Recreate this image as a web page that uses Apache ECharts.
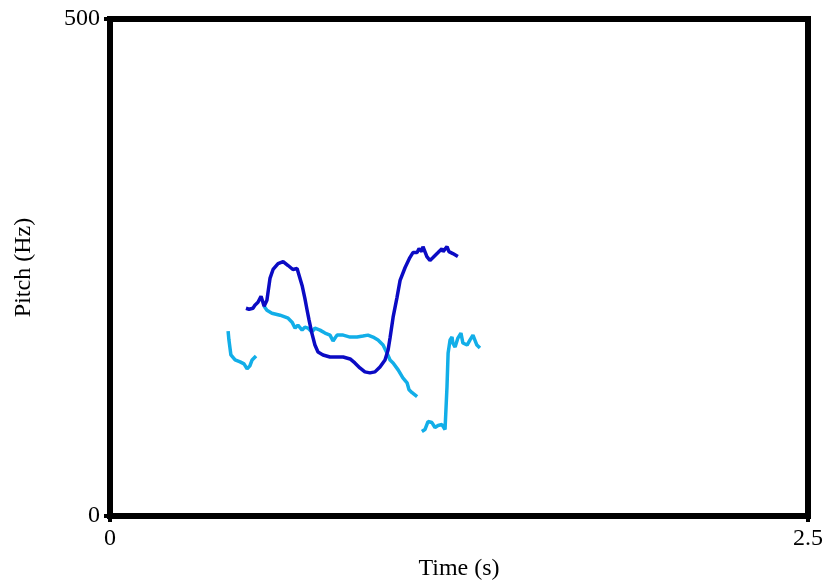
<!DOCTYPE html>
<html>
<head>
<meta charset="utf-8">
<script src="https://cdn.jsdelivr.net/npm/echarts@6/dist/echarts.min.js"></script>
<style>
  html, body { margin: 0; padding: 0; background: #fff; }
  #chart { width: 824px; height: 585px; }
</style>
</head>
<body>
<div id="chart"></div>
<script>
// 音高轨迹 (Pitch tracks)
const darkTime = [0.487, 0.498, 0.512, 0.519, 0.530, 0.541, 0.548, 0.552, 0.562, 0.573, 0.584, 0.602, 0.620, 0.638, 0.655, 0.670, 0.677, 0.688, 0.698, 0.706, 0.713, 0.723, 0.734, 0.745, 0.763, 0.788, 0.813, 0.835, 0.860, 0.877, 0.895, 0.913, 0.931, 0.949, 0.967, 0.985, 0.996, 1.003, 1.014, 1.028, 1.039, 1.057, 1.074, 1.085, 1.100, 1.107, 1.117, 1.121, 1.135, 1.146, 1.157, 1.175, 1.189, 1.193, 1.207, 1.214, 1.228, 1.246]
const darkPitch = [209, 208, 209, 212, 215, 221, 219, 211, 217, 239, 248, 254, 256, 252, 248, 249, 248, 232, 219, 207, 197, 184, 172, 165, 162, 160, 160, 160, 158, 154, 149, 145, 144, 145, 150, 157, 167, 179, 200, 220, 237, 250, 260, 265, 265, 269, 266, 271, 261, 257, 260, 265, 269, 266, 271, 266, 264, 261]

const lightTime1 = [0.423, 0.426, 0.433, 0.448, 0.466, 0.480, 0.491, 0.501, 0.509, 0.523]
const lightPitch1 = [186, 177, 162, 157, 155, 153, 148, 151, 157, 161]

const lightTime2 = [0.552, 0.562, 0.580, 0.609, 0.638, 0.652, 0.663, 0.673, 0.688, 0.698, 0.709, 0.723, 0.734, 0.752, 0.770, 0.788, 0.799, 0.813, 0.835, 0.860, 0.885, 0.906, 0.924, 0.942, 0.960, 0.978, 0.992, 1.003, 1.014, 1.032, 1.049, 1.064, 1.071, 1.082, 1.100]
const lightPitch2 = [211, 207, 204, 202, 199, 195, 189, 192, 187, 190, 189, 185, 189, 187, 184, 182, 176, 182, 182, 180, 180, 181, 182, 180, 177, 172, 164, 157, 154, 147, 139, 134, 127, 124, 120]

const lightTime3 = [1.117, 1.128, 1.139, 1.153, 1.164, 1.175, 1.189, 1.200, 1.207, 1.211, 1.218, 1.225, 1.228, 1.236, 1.246, 1.257, 1.264, 1.279, 1.289, 1.300, 1.314, 1.325]
const lightPitch3 = [85, 87, 95, 94, 89, 91, 92, 87, 130, 164, 177, 180, 174, 170, 179, 184, 174, 172, 177, 182, 172, 169]

const xTicks = [0, 2.5]
const yTicks = [0, 500]

const zip = (ts, vs) => ts.map((t, i) => [t, vs[i]])

const makeLine = (name, data, color) => ({
  name: name,
  type: 'line',
  showSymbol: false,
  data: data,
  lineStyle: { width: 3.5, color: color },
  itemStyle: { color: color }
})

const font = 'Liberation Serif'
const myChart = echarts.init(document.getElementById('chart'))
myChart.setOption({
  animation: false,
  grid: {
    left: 110,
    right: 16,
    top: 19,
    bottom: 69,
    outerBoundsMode: 'none',
    containLabel: false,
    show: true,
    borderColor: '#000',
    borderWidth: 6
  },
  xAxis: {
    type: 'value',
    min: xTicks[0],
    max: xTicks[1],
    interval: xTicks[1] - xTicks[0],
    name: 'Time (s)',
    nameLocation: 'middle',
    nameGap: 41,
    nameTextStyle: { fontFamily: font, fontSize: 24, color: '#000' },
    axisLine: { show: true, lineStyle: { color: '#000', width: 6 } },
    axisTick: { show: true, length: 6, lineStyle: { color: '#000', width: 4 } },
    axisLabel: { fontFamily: font, fontSize: 24, color: '#000', margin: 11 },
    splitLine: { show: false }
  },
  yAxis: {
    type: 'value',
    min: yTicks[0],
    max: yTicks[1],
    interval: yTicks[1] - yTicks[0],
    name: 'Pitch (Hz)',
    nameLocation: 'middle',
    nameGap: 74,
    nameTextStyle: { fontFamily: font, fontSize: 24, color: '#000' },
    axisLine: { show: true, lineStyle: { color: '#000', width: 6 } },
    axisTick: { show: true, length: 6, lineStyle: { color: '#000', width: 4 } },
    axisLabel: { fontFamily: font, fontSize: 24, color: '#000', margin: 10 },
    splitLine: { show: false }
  },
  series: [
    makeLine('light1', zip(lightTime1, lightPitch1), '#12aee8'),
    makeLine('light2', zip(lightTime2, lightPitch2), '#12aee8'),
    makeLine('light3', zip(lightTime3, lightPitch3), '#12aee8'),
    makeLine('dark', zip(darkTime, darkPitch), '#0b0bc4')
  ]
})
</script>
</body>
</html>
